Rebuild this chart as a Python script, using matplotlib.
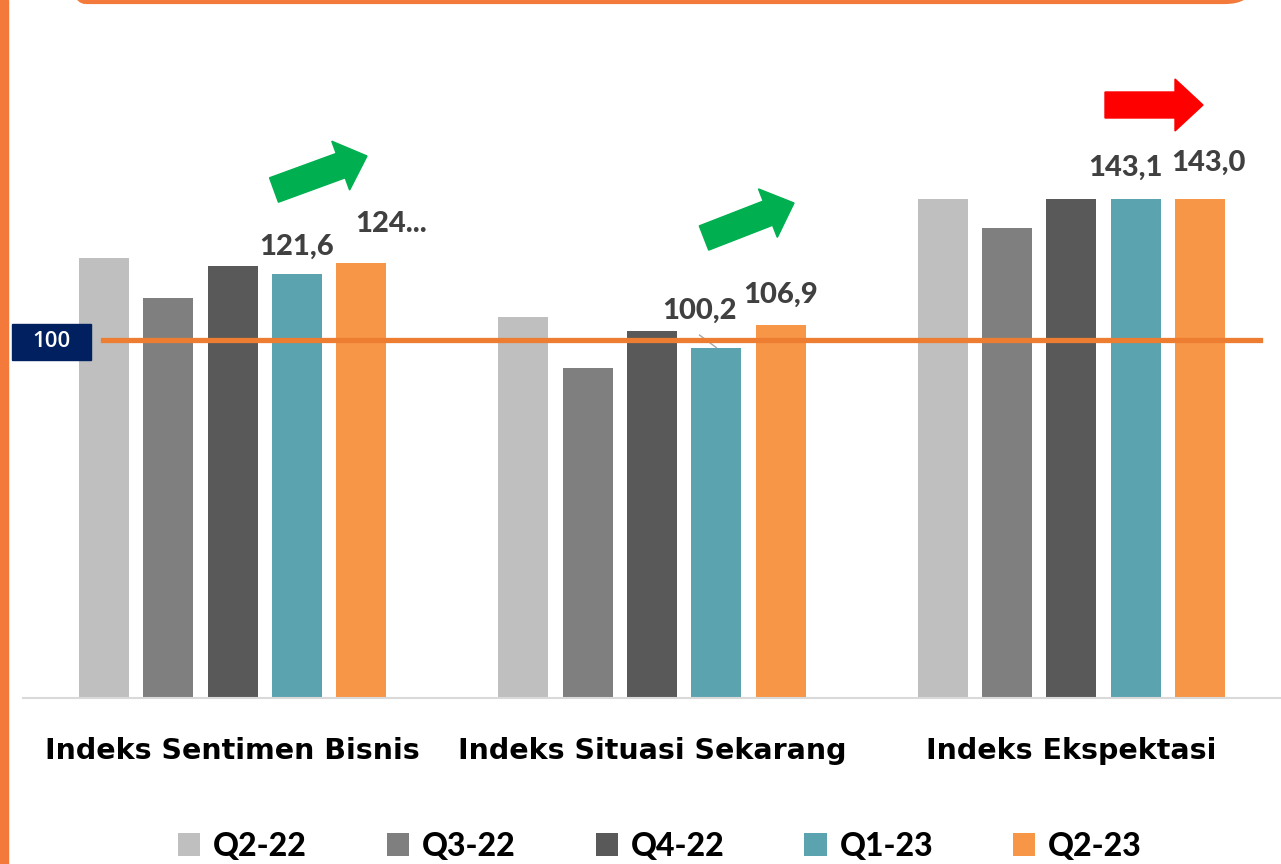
import numpy as np
import matplotlib
matplotlib.use("Agg")
import matplotlib.pyplot as plt
from matplotlib.patches import FancyArrow, FancyBboxPatch, Rectangle
from matplotlib.transforms import Affine2D

categories = ["Indeks Sentimen Bisnis", "Indeks Situasi Sekarang", "Indeks Ekspektasi"]
periods = ["Q2-22", "Q3-22", "Q4-22", "Q1-23", "Q2-23"]
q2_22 = [126.2, 109.3, 143.1]
q3_22 = [114.7, 94.6, 134.8]
q4_22 = [123.9, 105.2, 143.1]
q1_23 = [121.6, 100.2, 143.1]
q2_23 = [124.6, 106.9, 143.0]
colors = ["#BFBFBF", "#7F7F7F", "#595959", "#5BA3AF", "#F79646"]
ref_line = 102.7
ref_label = "100"

plt.rcParams["font.family"] = ["Lato", "DejaVu Sans"]

W, H = 1281, 864
fig = plt.figure(figsize=(W / 100, H / 100), dpi=100)
ax = fig.add_axes([23 / W, 1 - 698 / H, 1 - 23 / W, 698 / H])

x = np.arange(len(categories))
step = 0.1534
width = 0.119
series = [q2_22, q3_22, q4_22, q1_23, q2_23]
bars = []
for i, vals in enumerate(series):
    b = ax.bar(x + (i - 2) * step, vals, width, color=colors[i], label=periods[i], zorder=2)
    bars.append(b)

ax.set_xlim(-0.5, 2.5)
ax.set_ylim(0, 200)
for s in ["top", "right", "left"]:
    ax.spines[s].set_visible(False)
ax.spines["bottom"].set_color("#D9D9D9")
ax.spines["bottom"].set_linewidth(1.5)
ax.set_yticks([])
ax.set_xticks(x)
ax.set_xticklabels(categories, fontsize=20.5, fontweight="bold",
                   family=["DejaVu Sans"])
ax.tick_params(axis="x", length=0, pad=28)

# reference line
ax.plot([-0.31, 2.45], [ref_line, ref_line], color="#ED7D31", lw=3.8, zorder=3)
fig.patches.append(Rectangle((12 / W, 1 - 360 / H), 79 / W, 36 / H,
                             transform=fig.transFigure, color="#002060"))
fig.text(51 / W, 1 - 342 / H, ref_label, color="white", fontsize=16,
         fontweight="semibold", ha="center", va="center",
         family=["Open Sans", "DejaVu Sans"])

# value labels
lab = dict(ha="center", va="bottom", fontsize=21, fontweight="black", color="#404040")
ax.text(x[0] + 1 * step, 121.6 + 4, "121,6", **lab)
ax.text(x[0] + 2 * step + 0.07, 124.6 + 7.5, "124...", **lab)
ax.text(x[1] + 1 * step - 0.04, 100.2 + 7, "100,2", **lab)
ax.plot([x[1] + 1 * step - 0.04, x[1] + 1 * step], [104, 100.4], color="#A6A6A6", lw=1)
ax.text(x[1] + 2 * step, 106.9 + 5, "106,9", **lab)
ax.text(x[2] + 1 * step - 0.024, 143.1 + 5, "143,1", **lab)
ax.text(x[2] + 2 * step + 0.02, 143.0 + 6.5, "143,0", **lab)

# trend arrows, drawn in pixel space
pix = Affine2D().scale(fig.dpi / 100)
for (x0, y0, x1, y1, c) in [(274, 190, 367, 156, "#00B050"),
                            (704, 238, 794, 203, "#00B050"),
                            (1105, 105, 1203, 105, "#FF0000")]:
    a = FancyArrow(x0, H - y0, x1 - x0, -(y1 - y0), width=26, head_width=52,
                   head_length=28, length_includes_head=True, color=c,
                   transform=pix)
    fig.patches.append(a)

# decorative frame
fig.patches.append(Rectangle((0, 0), 8 / W, 1, transform=fig.transFigure,
                             color="#F37A3B"))
fig.patches.append(FancyBboxPatch((60 / W, 1 - 2 / H), 1190 / W, 0.2,
                                  boxstyle="round,pad=0,rounding_size=0.02",
                                  transform=fig.transFigure, fill=False,
                                  edgecolor="#F37A3B", lw=3))

fig.legend(handles=bars, labels=periods, loc="center",
           bbox_to_anchor=(660 / W, 1 - 846 / H), ncol=5, frameon=False,
           prop={"size": 23, "weight": "black"}, handlelength=0.7,
           handleheight=0.7, handletextpad=0.4, columnspacing=2.5)

fig.savefig("out.png", dpi=100)
